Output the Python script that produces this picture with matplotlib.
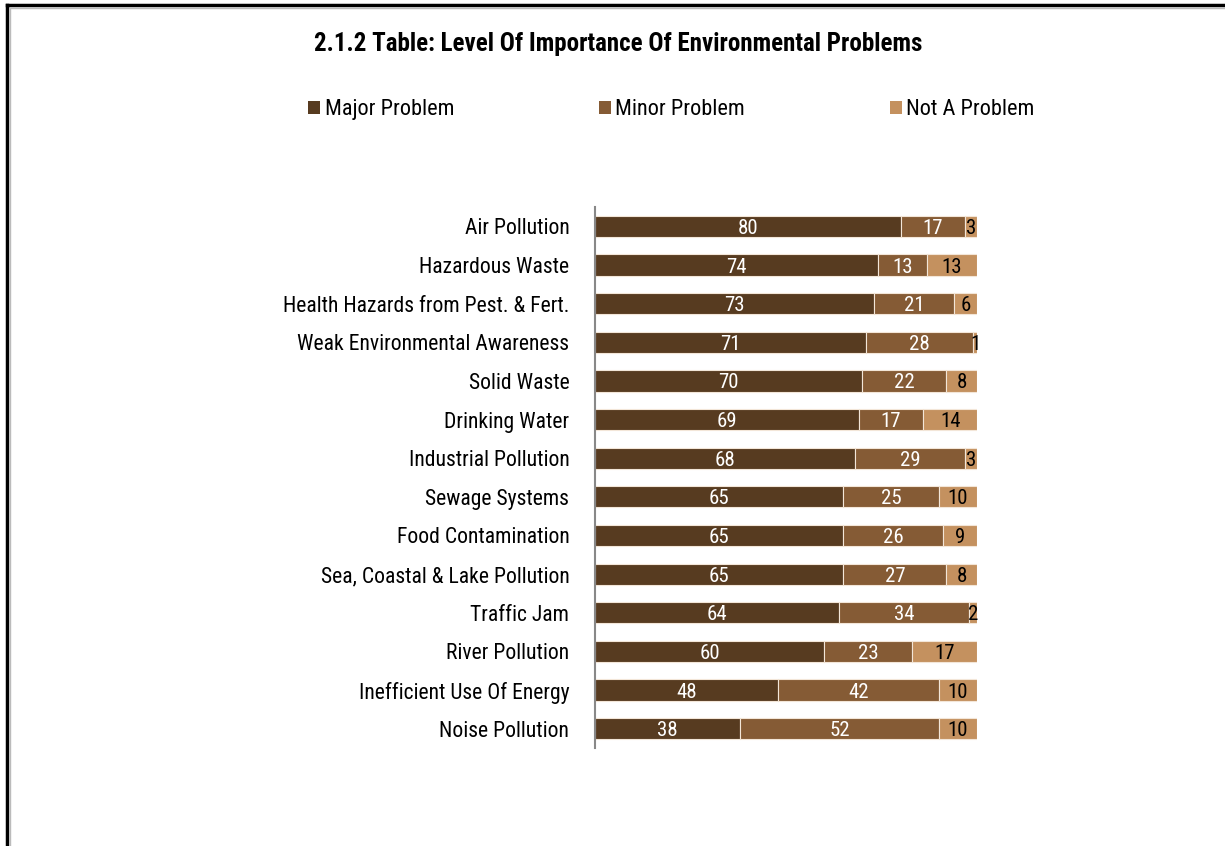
import matplotlib.pyplot as plt
import numpy as np
from matplotlib import font_manager as fm
from matplotlib.lines import Line2D
from matplotlib.patches import Patch

# survey shares (%), top to bottom as in the table
problems = ['Air Pollution', 'Hazardous Waste', 'Health Hazards from Pest. & Fert.',
            'Weak Environmental Awareness', 'Solid Waste', 'Drinking Water',
            'Industrial Pollution', 'Sewage Systems', 'Food Contamination',
            'Sea, Coastal & Lake Pollution', 'Traffic Jam', 'River Pollution',
            'Inefficient Use Of Energy', 'Noise Pollution']
major = [80, 74, 73, 71, 70, 69, 68, 65, 65, 65, 64, 60, 48, 38]
minor = [17, 13, 21, 28, 22, 17, 29, 25, 26, 27, 34, 23, 42, 52]
not_a = [3, 13, 6, 1, 8, 14, 3, 10, 9, 8, 2, 17, 10, 10]

series = ['Major Problem', 'Minor Problem', 'Not A Problem']
colors = ['#573b20', '#855b35', '#c4915f']
label_colors = ['white', 'white', 'black']

# look for a narrow sans font, the original uses a condensed face
fam, stretch = 'DejaVu Sans', 'condensed'
fonts = fm.fontManager.ttflist
for cand in ['Liberation Sans Narrow', 'Roboto Condensed', 'Open Sans Condensed']:
    if any(f.name == cand for f in fonts):
        fam, stretch = cand, 'normal'
        break
else:
    narrow = [f for f in fonts if f.stretch in ('condensed', 'semi-condensed')
              and 'Sans' in f.name and 'Mono' not in f.name]
    if narrow:
        fam, stretch = narrow[0].name, narrow[0].stretch
plt.rcParams['font.family'] = [fam, 'DejaVu Sans']
plt.rcParams['font.stretch'] = stretch

fig = plt.figure(figsize=(12.25, 8.46), dpi=100)
ax = fig.add_axes([0.4857, 0.1158, 0.3118, 0.6395])

y = np.arange(len(problems))
left = np.zeros(len(problems))
for vals, c, lc, name in zip([major, minor, not_a], colors, label_colors, series):
    bars = ax.barh(y, vals, left=left, height=0.55, color=c, edgecolor='#f3e6d8',
                   linewidth=0.8, label=name)
    txts = ax.bar_label(bars, labels=[str(v) for v in vals], label_type='center',
                        color=lc, fontsize=15)
    for t in txts:
        t.xyann = (0, -1.5)   # nudge down a touch
    left += np.array(vals)

ax.set_xlim(0, 100)
ax.set_ylim(13.5, -0.5)
ax.set_yticks(y)
ax.set_yticklabels(problems, fontsize=15.6)
ax.tick_params(axis='y', length=0, pad=18.5)
ax.set_xticks([])
for s in ['top', 'right', 'bottom']:
    ax.spines[s].set_visible(False)
ax.spines['left'].set_color('#888888')
ax.spines['left'].set_linewidth(1.5)

fig.text(0.5045, 0.948, '2.1.2 Table: Level Of Importance Of Environmental Problems',
         ha='center', va='center', fontsize=18, fontweight='bold')

handles = [Patch(facecolor=c) for c in colors]
fig.legend(handles, series, loc='center', bbox_to_anchor=(0.548, 0.8705), ncol=3,
           frameon=False, fontsize=16, handlelength=0.55, handleheight=0.55,
           handletextpad=0.2, columnspacing=6.5)

# frame lines of the original page (top and left)
fig.add_artist(Line2D([0.006, 1.0], [0.9935, 0.9935], color='black', lw=2.5))
fig.add_artist(Line2D([0.006, 0.006], [0.0, 0.9935], color='black', lw=2.5))
fig.add_artist(Line2D([0.0085, 1.0], [0.9905, 0.9905], color='#bbbbbb', lw=1))
fig.add_artist(Line2D([0.0085, 0.0085], [0.0, 0.9905], color='#bbbbbb', lw=1))

fig.savefig('out.png', dpi=100)
